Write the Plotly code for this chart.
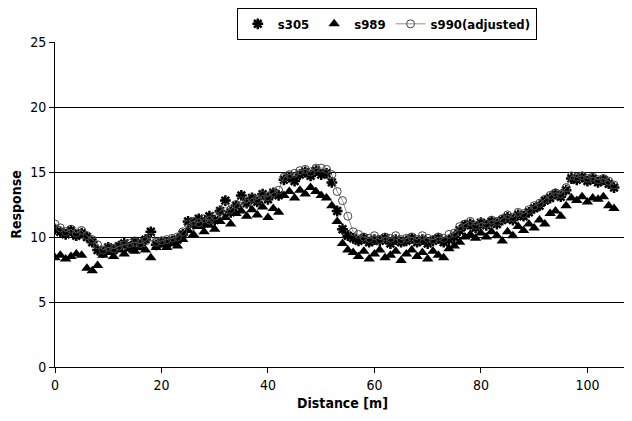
import plotly.graph_objects as go

distance = list(range(0, 106))

s305 = [10.6, 10.4, 10.2, 10.5, 10.1, 10.3, 10.0, 9.6,
        9.0, 8.8, 9.2, 9.0, 9.3,
        9.5, 9.2, 9.6, 9.4, 9.8,
        10.4, 9.4, 9.6, 9.5, 9.7, 9.8, 10.2,
        11.2, 11.0, 11.4, 11.1, 11.6, 11.3,
        12.0, 12.8, 11.9, 12.4, 13.2, 12.6, 13.0, 12.7, 13.3, 12.9, 13.4, 13.2,
        14.4, 14.6, 14.3, 14.8, 15.0, 14.7, 15.1, 14.8, 14.9, 14.2,
        12.0, 10.6, 10.1, 9.9,
        9.7, 9.9, 9.6, 9.8, 9.7, 9.9, 9.5, 9.8, 9.6, 9.7, 9.9, 9.6, 9.8, 9.5, 9.7, 9.9, 9.6, 9.8, 10.0,
        10.5, 10.9, 11.0, 10.7, 11.1, 10.9, 11.2, 11.0, 11.3,
        11.5, 11.3, 11.7, 11.6, 11.9, 12.2,
        12.4, 12.8, 13.0, 13.3, 13.1, 13.6,
        14.5, 14.4, 14.6, 14.3, 14.5, 14.2, 14.4, 14.1, 13.8]

s989 = [8.4, 8.6, 8.3, 8.5, 8.7, 8.6,
        7.6, 7.4, 7.8,
        8.6, 8.8, 8.5, 9.0, 8.7, 9.1, 8.9, 9.2, 9.0,
        8.4, 9.2, 9.4, 9.2, 9.5, 9.3, 9.8,
        10.5, 10.2, 10.8, 10.4, 10.9, 10.6,
        11.2, 11.5, 11.0, 11.8, 12.0, 11.6, 12.1, 11.7, 12.3, 11.5, 12.2, 11.9,
        13.2, 13.5, 13.0, 13.6, 13.3, 13.8, 13.5, 13.2, 13.0, 12.4,
        11.2, 9.5, 9.0, 8.8,
        8.5, 8.9, 8.3, 8.7, 9.0, 8.4, 8.6, 8.9, 8.2, 8.7, 9.0, 8.5, 8.8, 8.3, 8.9, 8.6, 8.4, 9.1, 9.3,
        9.6, 10.0, 10.2, 9.9, 10.3, 10.0, 10.4, 10.1, 9.7,
        10.4, 10.1, 10.8, 10.5, 11.0, 10.7,
        11.3, 11.0, 11.8, 12.0, 11.6, 12.4,
        13.0, 12.8, 13.1, 12.7, 13.0, 12.9, 13.1, 12.4, 12.2]

s990 = [11.0, 10.7, 10.4, 10.6, 10.3, 10.5, 10.1, 9.8,
        9.4, 9.0, 9.2, 9.1, 9.3,
        9.4, 9.5, 9.6, 9.5, 9.7,
        10.0, 9.6, 9.7, 9.8, 9.9, 10.0, 10.4,
        11.0, 11.2, 11.1, 11.4, 11.3, 11.6,
        12.0, 12.3, 12.1, 12.5, 12.8, 12.6, 13.0, 12.9, 13.2, 13.1, 13.4, 13.6,
        14.6, 14.8, 14.9, 15.1, 15.2, 15.0, 15.3, 15.3, 15.2, 14.8,
        13.5, 12.8, 11.6, 10.4,
        10.2, 10.0, 9.9, 10.1, 9.8, 10.0, 9.9, 10.1, 9.8, 9.9, 10.0, 9.8, 10.1, 9.9, 9.8, 10.0, 9.9, 10.2, 10.3,
        10.8, 11.0, 11.2, 10.9, 11.1, 11.0, 11.3, 11.2, 11.4,
        11.7, 11.5, 11.9, 11.8, 12.1, 12.4,
        12.6, 12.9, 13.2, 13.4, 13.3, 13.8,
        14.7, 14.6, 14.7, 14.5, 14.6, 14.4, 14.5, 14.3, 14.0]

y_ticks = [0, 5, 10, 15, 20, 25]
x_ticks = [0, 20, 40, 60, 80, 100]

FONT = "DejaVu Sans Condensed, Liberation Sans Narrow, Arial Narrow, Liberation Sans, sans-serif"

fig = go.Figure()
fig.add_trace(go.Scatter(
    x=distance, y=s305, name="s305", mode="markers",
    marker=dict(symbol="asterisk-open", size=9, color="black",
                line=dict(color="black", width=2.5)),
))
fig.add_trace(go.Scatter(
    x=distance, y=s989, name="s989", mode="markers",
    marker=dict(symbol="triangle-up", size=10, color="black"),
))
fig.add_trace(go.Scatter(
    x=distance, y=s990, name="s990(adjusted)", mode="lines+markers",
    line=dict(color="#777777", width=0.8),
    marker=dict(symbol="circle-open", size=8, color="#444444",
                line=dict(color="#444444", width=1)),
))

fig.update_layout(
    width=632, height=421,
    margin=dict(l=47, r=10, t=34, b=62, autoexpand=False),
    paper_bgcolor="white", plot_bgcolor="white",
    font=dict(family=FONT, size=13, color="black"),
    showlegend=True,
    legend=dict(
        orientation="h", xref="paper", yref="paper",
        x=0.577, xanchor="center", y=1.105, yanchor="top",
        bordercolor="black", borderwidth=1, bgcolor="white",
        font=dict(family=FONT, size=13, color="black", weight="bold"),
        itemwidth=30, tracegroupgap=0,
    ),
    xaxis=dict(
        range=[0, 108], tickvals=x_ticks, ticktext=[str(v) for v in x_ticks],
        showgrid=False, zeroline=False, showline=True, linecolor="black", linewidth=1,
        ticks="outside", ticklen=5, tickcolor="black", automargin=False,
        title=dict(text="Distance [m]", standoff=6,
                   font=dict(family=FONT, size=14, weight="bold")),
        tickfont=dict(family=FONT, size=14),
    ),
    yaxis=dict(
        range=[0, 25], tickvals=y_ticks, ticktext=[str(v) for v in y_ticks],
        showgrid=True, gridcolor="black", gridwidth=1, zeroline=False,
        showline=True, linecolor="black", linewidth=1,
        ticks="outside", ticklen=5, tickcolor="black", automargin=False,
        title=dict(text="Response", standoff=7,
                   font=dict(family=FONT, size=14, weight="bold")),
        tickfont=dict(family=FONT, size=14),
    ),
)

fig.write_html("out.html")
